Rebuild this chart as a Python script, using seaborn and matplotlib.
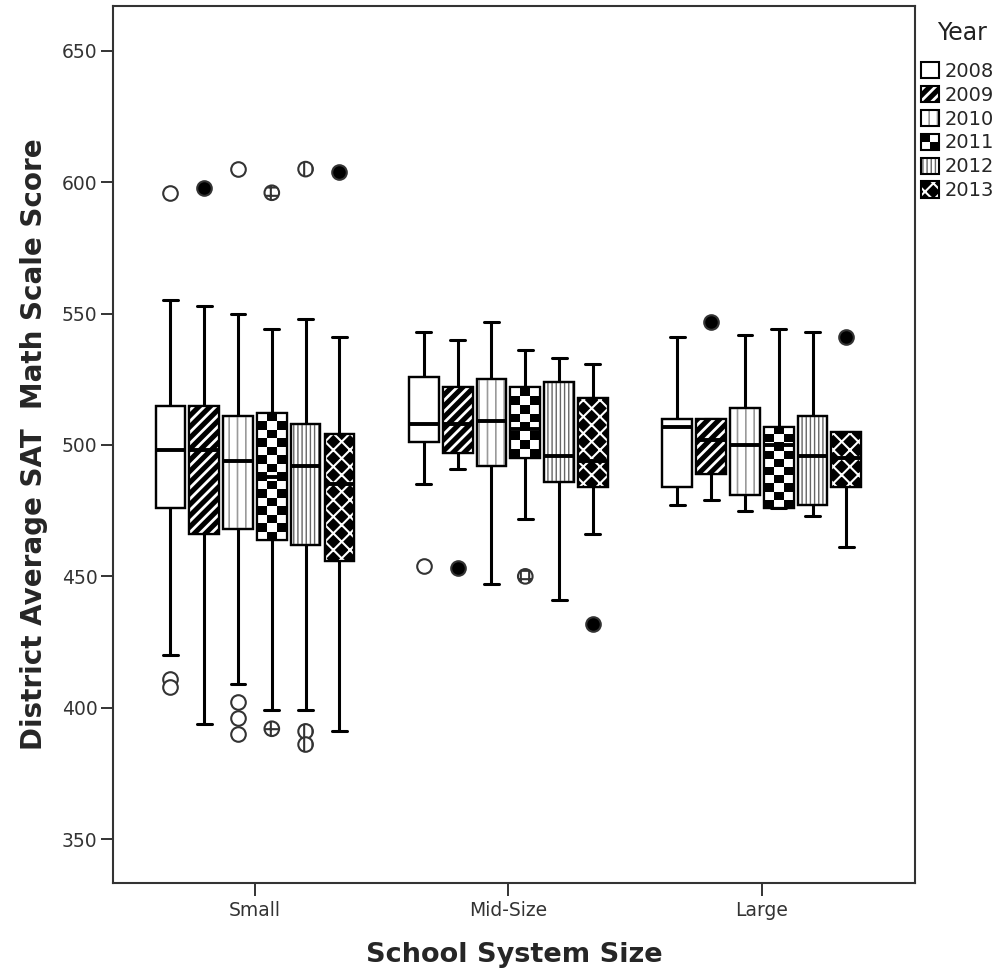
import numpy as np
import pandas as pd
import matplotlib
matplotlib.use("Agg")
import matplotlib.pyplot as plt
from matplotlib.patches import PathPatch, Rectangle, Patch
from matplotlib.legend_handler import HandlerBase
import seaborn as sns

SIZES = ["Small", "Mid-Size", "Large"]
YEARS = ["2008", "2009", "2010", "2011", "2012", "2013"]

# box summaries: rows = school size, columns = year
LOWER = [
    [420, 394, 409, 399, 399, 391],
    [485, 491, 447, 472, 441, 466],
    [477, 479, 475, 476, 473, 461],
]
Q1 = [
    [476, 466, 468, 464, 462, 456],
    [501, 497, 492, 495, 486, 484],
    [484, 489, 481, 476, 477, 484],
]
MEDIAN = [
    [498, 498, 494, 488, 492, 485],
    [508, 508, 509, 506, 496, 494],
    [507, 502, 500, 500, 496, 495],
]
Q3 = [
    [515, 515, 511, 512, 508, 504],
    [526, 522, 525, 522, 524, 518],
    [510, 510, 514, 507, 511, 505],
]
UPPER = [
    [555, 553, 550, 544, 548, 541],
    [543, 540, 547, 536, 533, 531],
    [541, 510, 542, 544, 543, 505],
]

# outliers
OUT_SIZE = (["Small"] * 14) + (["Mid-Size"] * 4) + (["Large"] * 2)
OUT_YEAR = ["2008", "2008", "2008", "2009", "2010", "2010", "2010", "2010",
            "2011", "2011", "2012", "2012", "2012", "2013",
            "2008", "2009", "2011", "2013",
            "2009", "2013"]
OUT_SCORE = [596, 411, 408, 598, 605, 402, 396, 390,
             596, 392, 605, 391, 386, 604,
             454, 453, 450, 432,
             547, 541]

# fill patterns per year (SPSS style)
STYLE = {
    "2008": dict(face="white"),
    "2009": dict(face="black", hatch="///", hatch_color="white", hatch_lw=2.0),
    "2010": dict(face="white", hatch="||", hatch_color="#9a9a9a", hatch_lw=1.2),
    "2011": dict(face="white", checker=True),
    "2012": dict(face="white", hatch="||||", hatch_color="#666666", hatch_lw=1.0),
    "2013": dict(face="black", hatch="xx", hatch_color="white", hatch_lw=1.5),
}
OUT_STYLE = {
    "2008": dict(fc="white"),
    "2009": dict(fc="black"),
    "2010": dict(fc="white"),
    "2011": dict(fc="white", hatch="++"),
    "2012": dict(fc="white", hatch="||"),
    "2013": dict(fc="black"),
}

rows = []
for i, s in enumerate(SIZES):
    for j, y in enumerate(YEARS):
        for stat in (LOWER, Q1, MEDIAN, Q3, UPPER):
            rows.append((s, y, stat[i][j]))
box_df = pd.DataFrame(rows, columns=["size", "year", "score"])
out_df = pd.DataFrame({"size": OUT_SIZE, "year": OUT_YEAR, "score": OUT_SCORE})

sns.set_style("ticks")
plt.rcParams["font.family"] = ["DejaVu Sans"]
plt.rcParams["hatch.linewidth"] = 1.5

fig, ax = plt.subplots(figsize=(10.05, 9.76), dpi=100)
fig.subplots_adjust(left=0.1124, right=0.9104, bottom=0.0953, top=0.9939)

sns.boxplot(data=box_df, x="size", y="score", hue="year", order=SIZES, hue_order=YEARS,
            palette={y: STYLE[y]["face"] for y in YEARS}, saturation=1,
            whis=(0, 100), showfliers=False, gap=0.12, linecolor="black", linewidth=1.6,
            legend=False, ax=ax,
            whiskerprops=dict(linewidth=2.2), capprops=dict(linewidth=2.2),
            medianprops=dict(linewidth=2.8, zorder=5), boxprops=dict(zorder=2))

XLIM = (-0.56, 2.604)
YLIM = (333.3, 667.1)
ax.set_xlim(*XLIM)
ax.set_ylim(*YLIM)

slot = 0.8 / len(YEARS)
for patch in list(ax.patches):
    verts = patch.get_path().vertices
    cx = (verts[:, 0].min() + verts[:, 0].max()) / 2
    k = int(round((cx - round(cx) + 0.4) / slot - 0.5))
    st = STYLE[YEARS[k]]
    path = patch.get_path()
    if st.get("checker"):
        x0, x1 = verts[:, 0].min(), verts[:, 0].max()
        y0, y1 = verts[:, 1].min(), verts[:, 1].max()
        (px0, py0), (px1, py1) = ax.transData.transform([[x0, y0], [x1, y1]])
        nx = max(2, int(round((px1 - px0) / 8.5)))
        ny = max(2, int(round((py1 - py0) / 8.5)))
        grid = np.indices((ny, nx)).sum(axis=0) % 2
        im = ax.imshow(grid, cmap="gray_r", vmin=0, vmax=1, extent=(x0, x1, y0, y1),
                       aspect="auto", interpolation="nearest", zorder=3)
        im.set_clip_path(patch)
    if "hatch" in st:
        hp = PathPatch(path, facecolor="none", edgecolor=st["hatch_color"], lw=0,
                       hatch=st["hatch"], zorder=3)
        if hasattr(hp, "set_hatch_linewidth"):
            hp.set_hatch_linewidth(st["hatch_lw"])
        ax.add_patch(hp)
    ax.add_patch(PathPatch(path, facecolor="none", edgecolor="black", lw=1.6, zorder=4))

# outliers, one pass per year so each gets its own marker fill
for y in YEARS:
    n0 = len(ax.collections)
    sns.stripplot(data=out_df[out_df["year"] == y], x="size", y="score", hue="year",
                  order=SIZES, hue_order=YEARS, palette={yy: "black" for yy in YEARS},
                  dodge=True, jitter=False, size=10.5, legend=False, ax=ax, zorder=6)
    for coll in ax.collections[n0:]:
        coll.set_facecolor(OUT_STYLE[y]["fc"])
        coll.set_edgecolor("#333333")
        coll.set_linewidth(1.5)
        if "hatch" in OUT_STYLE[y]:
            coll.set_hatch(OUT_STYLE[y]["hatch"])

ax.set_xlim(*XLIM)
ax.set_ylim(*YLIM)
ax.set_yticks([350, 400, 450, 500, 550, 600, 650])
for side in ["top", "right", "left", "bottom"]:
    ax.spines[side].set_visible(True)
    ax.spines[side].set_linewidth(1.5)
    ax.spines[side].set_color("#333333")
ax.tick_params(axis="both", direction="out", length=9, width=1.4, color="#333333",
               labelsize=13.5, labelcolor="#333333")
ax.tick_params(axis="y", pad=2)
ax.tick_params(axis="x", pad=4)
ax.set_xlabel("School System Size", fontsize=19.5, fontweight="bold", labelpad=16)
ax.set_ylabel("District Average SAT  Math Scale Score", fontsize=20, fontweight="bold", labelpad=10)


class PatternHandler(HandlerBase):
    def __init__(self, style):
        super().__init__()
        self.style = style

    def create_artists(self, legend, orig_handle, xdescent, ydescent, width, height, fontsize, trans):
        x0, y0 = -xdescent, -ydescent
        st = self.style
        arts = [Rectangle((x0, y0), width, height, facecolor=st["face"], edgecolor="none", transform=trans)]
        if st.get("checker"):
            w, h = width / 2, height / 2
            arts.append(Rectangle((x0, y0 + h), w, h, facecolor="black", edgecolor="none", transform=trans))
            arts.append(Rectangle((x0 + w, y0), w, h, facecolor="black", edgecolor="none", transform=trans))
        if "hatch" in st:
            r = Rectangle((x0, y0), width, height, facecolor="none", edgecolor=st["hatch_color"],
                          lw=0, hatch=st["hatch"], transform=trans)
            if hasattr(r, "set_hatch_linewidth"):
                r.set_hatch_linewidth(st["hatch_lw"])
            arts.append(r)
        arts.append(Rectangle((x0, y0), width, height, facecolor="none", edgecolor="black",
                              lw=1.5, transform=trans))
        return arts


fig.text(962 / 1005, 1 - 33 / 976, "Year", ha="center", va="center", fontsize=17, color="#222222")
handles = [Patch(label=y) for y in YEARS]
fig.legend(handles=handles, labels=YEARS, loc="upper left",
           bbox_to_anchor=(0.913, 1 - 58 / 976), frameon=False, fontsize=14,
           handlelength=0.9, handleheight=0.9, handletextpad=0.3, labelspacing=0.25,
           borderpad=0.2, borderaxespad=0,
           handler_map={h: PatternHandler(STYLE[y]) for h, y in zip(handles, YEARS)})

fig.savefig("out.png", dpi=100)
